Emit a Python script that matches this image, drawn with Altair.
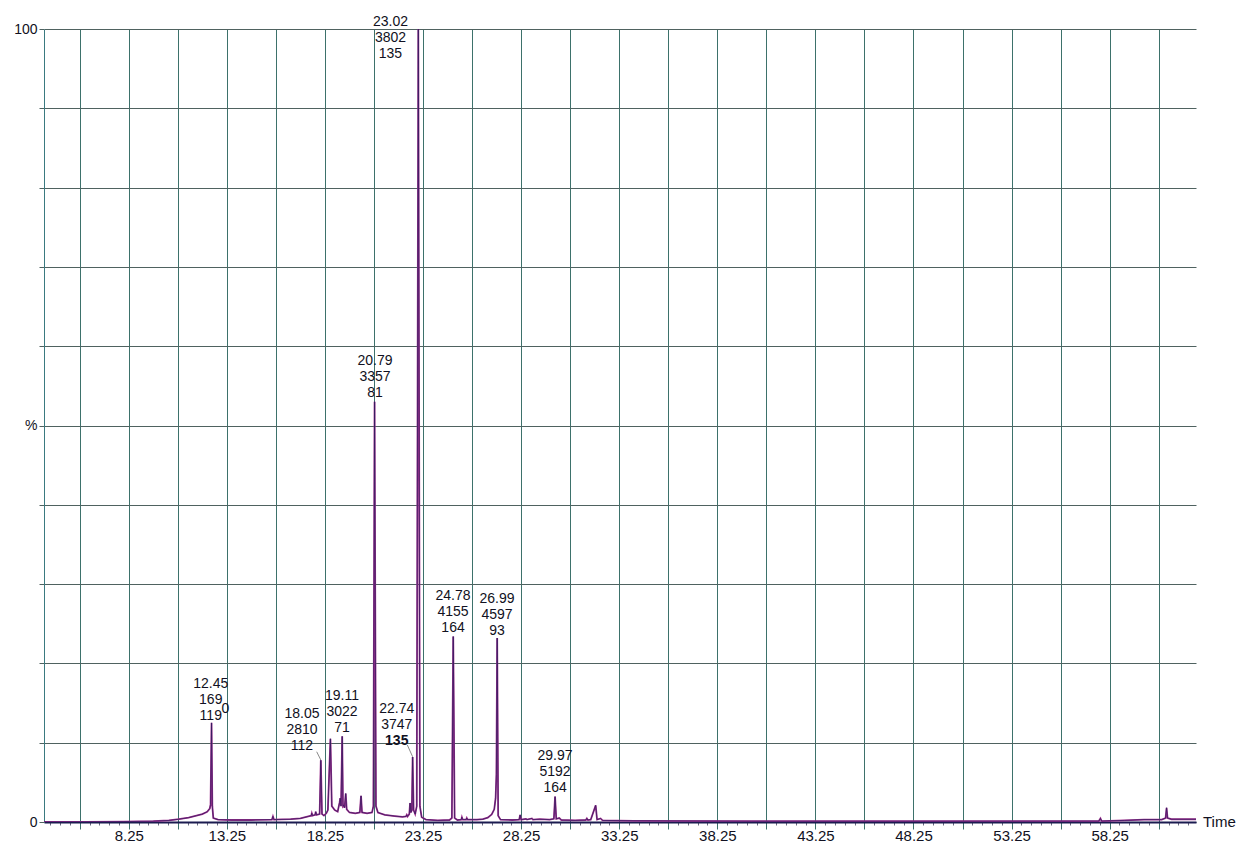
import altair as alt
import pandas as pd

# ---- chromatogram trace (time in minutes, intensity in %) ----
time_min = [
    3.93, 6.0, 8.0, 9.5, 10.3, 10.8, 11.3, 11.7, 12.0, 12.25, 12.38, 12.42, 12.47, 12.51, 12.56, 12.8,
    13.5, 14.5, 15.55, 15.6, 15.65, 16.5, 17.0, 17.4, 17.55, 17.58, 17.62, 17.75, 17.78, 17.82,
    17.98, 18.04, 18.10, 18.20, 18.32, 18.40, 18.53, 18.60, 18.75, 18.90, 19.00, 19.03, 19.07,
    19.13, 19.17, 19.20, 19.25, 19.31, 19.36, 19.5, 19.8, 20.03, 20.09, 20.14, 20.4, 20.65, 20.72,
    20.78, 20.85, 20.95, 21.3, 21.8, 22.2, 22.38, 22.42, 22.46, 22.55, 22.59, 22.63, 22.68, 22.72,
    22.77, 22.85, 22.93, 23.01, 23.09, 23.18, 23.4, 24.0, 24.6, 24.72, 24.79, 24.86, 25.0, 25.2,
    25.23, 25.27, 25.45, 25.48, 25.52, 26.0, 26.3, 26.55, 26.75, 26.88, 26.95, 26.99, 27.03, 27.08,
    27.2, 27.8, 28.15, 28.2, 28.25, 28.5, 28.55, 28.8, 28.85, 29.2, 29.7, 29.92, 29.98, 30.04,
    30.2, 30.3, 31.0, 31.55, 31.6, 31.65, 31.8, 32.05, 32.12, 32.3, 32.4, 34.0, 40.0, 50.0,
    57.7, 57.78, 57.84, 59.0, 60.0, 60.9, 61.1, 61.15, 61.2, 61.4, 62.65,
]
intensity_pct = [
    0.0, 0.02, 0.05, 0.1, 0.2, 0.35, 0.55, 0.8, 1.0, 1.3, 1.7, 2.2, 12.5, 2.0, 0.5, 0.3,
    0.25, 0.25, 0.3, 0.7, 0.3, 0.35, 0.45, 0.7, 0.8, 1.1, 0.8, 0.9, 1.3, 0.9,
    1.0, 7.8, 1.0, 0.8, 1.1, 1.5, 10.5, 2.0, 1.5, 1.3, 2.5, 3.0, 2.0,
    10.8, 2.0, 2.1, 1.8, 3.6, 1.6, 1.2, 1.1, 1.2, 3.3, 1.2, 1.1, 1.2, 2.0,
    53.0, 2.0, 1.2, 0.9, 0.75, 0.65, 0.7, 0.9, 0.7, 1.0, 2.4, 1.2, 1.5, 8.2,
    1.5, 1.0, 2.0, 100.0, 2.0, 0.6, 0.3, 0.2, 0.25, 0.5, 23.4, 0.5, 0.25, 0.3,
    0.6, 0.3, 0.3, 0.5, 0.3, 0.3, 0.35, 0.55, 0.95, 1.6, 3.0, 6.0, 23.2, 0.8,
    0.3, 0.25, 0.3, 0.9, 0.3, 0.4, 0.3, 0.45, 0.3, 0.35, 0.3, 0.4, 3.2, 0.4,
    0.5, 0.25, 0.2, 0.25, 0.45, 0.25, 0.3, 2.1, 0.3, 0.45, 0.2, 0.15, 0.1, 0.1,
    0.12, 0.45, 0.12, 0.2, 0.3, 0.3, 0.5, 1.8, 0.5, 0.35, 0.35,
]

# ---- peak annotations ----
label_time = [12.43, 17.08, 19.12, 20.80, 21.91, 21.59, 24.78, 27.02, 29.98]
label_base = [12.86, 9.08, 11.39, 53.63, 9.71, 96.3, 23.92, 23.58, 3.75]
label_rt = ["12.45", "18.05", "19.11", "20.79", "22.74", "23.02", "24.78", "26.99", "29.97"]
label_scan = ["169", "2810", "3022", "3357", "3747", "3802", "4155", "4597", "5192"]
label_mass = ["119", "112", "71", "81", "135", "135", "164", "93", "164"]
label_mass_bold = [False, False, False, False, True, False, False, False, False]

# stray overlapping "0" next to the 12.45 annotation
extra_time = [13.17]
extra_base = [13.75]
extra_text = ["0"]

# leader lines from offset labels to their peaks
conn_t1 = [17.83, 22.45]
conn_y1 = [8.86, 9.71]
conn_t2 = [18.04, 22.72]
conn_y2 = [7.82, 8.23]

# axis ticks
x_labeled = [8.25, 13.25, 18.25, 23.25, 28.25, 33.25, 38.25, 43.25, 48.25, 53.25, 58.25]
x_minor = [round(4.25 + 0.5 * i, 2) for i in range(117)]
y_ticks = [0, 10, 20, 30, 40, 50, 60, 70, 80, 90, 100]

X_MIN, X_MAX = 3.93, 62.65
FONT = "Liberation Sans"
TXT = "#111122"
LINE_H = 16

trace = pd.DataFrame({"t": time_min, "y": intensity_pct})

rows = []
for t, b, rt, sc, ms, bd in zip(label_time, label_base, label_rt, label_scan, label_mass, label_mass_bold):
    rows.append({"t": t, "y": b, "line": 0, "txt": rt, "bold": False})
    rows.append({"t": t, "y": b, "line": 1, "txt": sc, "bold": False})
    rows.append({"t": t, "y": b, "line": 2, "txt": ms, "bold": bd})
for t, b, s in zip(extra_time, extra_base, extra_text):
    rows.append({"t": t, "y": b, "line": 2, "txt": s, "bold": False})
labels = pd.DataFrame(rows)

conn = pd.DataFrame({"t1": conn_t1, "y1": conn_y1, "t2": conn_t2, "y2": conn_y2})
title_df = pd.DataFrame({"t": [X_MAX], "y": [0], "txt": ["Time"]})

grid_test = "abs(datum.value - 5.75 - 2.5*round((datum.value - 5.75)/2.5)) < 0.01"
label_test = "abs(datum.value - 8.25 - 5*round((datum.value - 8.25)/5)) < 0.01"

xscale = alt.Scale(domain=[X_MIN, X_MAX], nice=False, zero=False)
yscale = alt.Scale(domain=[0, 100], nice=False)

GRID_V = "#3d716b"
GRID_H = "#4f6260"

x_axis = alt.Axis(
    values=x_minor,
    tickCount=1000,
    labelExpr=f"({label_test}) ? format(datum.value, '.2f') : ''",
    grid=True,
    gridOpacity={"condition": {"test": grid_test, "value": 1}, "value": 0},
    gridColor=GRID_V,
    gridWidth=1,
    tickSize={"condition": {"test": grid_test, "value": 7}, "value": 3},
    tickColor={"condition": {"test": grid_test, "value": GRID_V}, "value": "#6a6a80"},
    tickWidth=1,
    domainColor="#1b1b50",
    domainWidth=2,
    labelFont=FONT,
    labelFontSize=15,
    labelColor=TXT,
    labelPadding=-1,
    labelOverlap=False,
    labelFlush=False,
    labelBound=False,
    title=None,
)
y_axis = alt.Axis(
    values=y_ticks,
    tickCount=100,
    labelExpr="datum.value == 100 ? '100' : datum.value == 0 ? '0' : datum.value == 50 ? '%' : ''",
    grid=True,
    gridColor=GRID_H,
    gridWidth=1,
    tickSize=5,
    tickColor=GRID_H,
    domainColor="#3a7a80",
    domainWidth=1,
    labelFont=FONT,
    labelFontSize=14,
    labelColor=TXT,
    labelPadding=2,
    labelOverlap=False,
    labelFlush=False,
    title=None,
)

base_line = alt.Chart(trace).mark_line(color="#a0308f", strokeWidth=1.8, clip=True).encode(
    x=alt.X("t:Q", scale=xscale, axis=x_axis),
    y=alt.Y("y:Q", scale=yscale, axis=y_axis),
)
dark_line = alt.Chart(trace).mark_line(color="#2a1a5a", strokeWidth=0.7, clip=True).encode(
    x=alt.X("t:Q", scale=xscale),
    y=alt.Y("y:Q", scale=yscale),
)

connectors = alt.Chart(conn).mark_rule(color="#8a8a8a", strokeWidth=1).encode(
    x="t1:Q", y="y1:Q", x2="t2:Q", y2="y2:Q"
)

text_layers = []
for k in range(3):
    for bold in (False, True):
        test = f"datum.line == {k} && {'datum.bold' if bold else '!datum.bold'}"
        props = dict(font=FONT, fontSize=14, color=TXT, align="center",
                     baseline="alphabetic", dy=-(2 - k) * LINE_H)
        if bold:
            props["fontWeight"] = "bold"
        text_layers.append(
            alt.Chart(labels).transform_filter(test).mark_text(**props).encode(
                x="t:Q", y="y:Q", text="txt:N"
            )
        )

time_title = alt.Chart(title_df).mark_text(
    font=FONT, fontSize=15, color=TXT, align="left", baseline="middle", dx=7
).encode(x="t:Q", y="y:Q", text="txt:N")

chart = alt.layer(
    base_line, dark_line, connectors, *text_layers, time_title
).properties(
    width=1152,
    height=793,
    padding={"left": 36, "top": 21, "right": 40, "bottom": 20},
    autosize=alt.AutoSizeParams(type="none"),
    background="white",
).configure_view(strokeWidth=0)

chart.save("out.html", embed_options={"renderer": "svg", "actions": False})
